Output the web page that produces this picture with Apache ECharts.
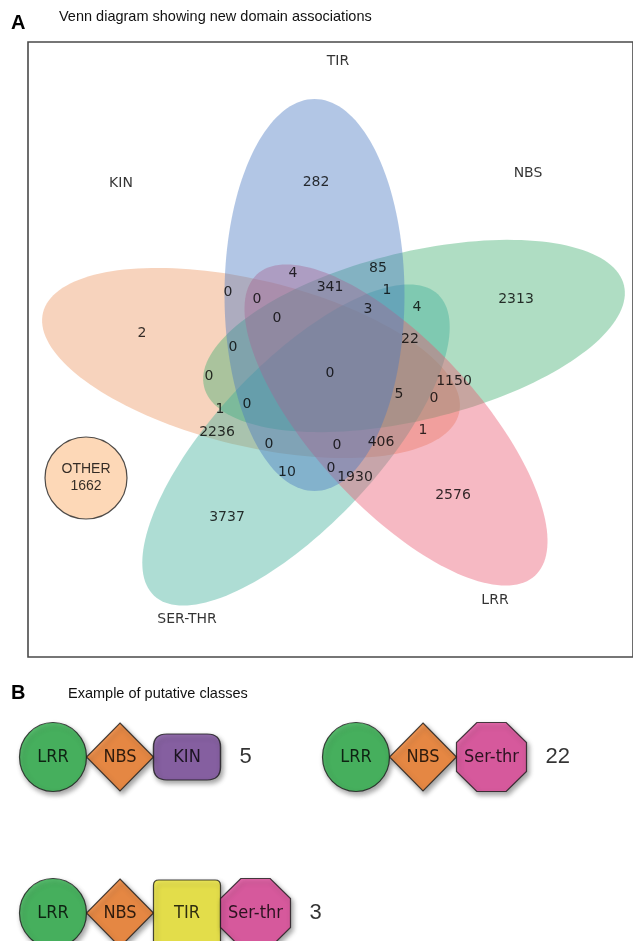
<!DOCTYPE html>
<html>
<head>
<meta charset="utf-8">
<script src="https://cdn.jsdelivr.net/npm/echarts@6/dist/echarts.min.js"></script>
<style>
  html, body { margin: 0; padding: 0; background: #fff; }
  #main { width: 633px; height: 941px; }
</style>
</head>
<body>
<div id="main"></div>
<script>
// ---- data: panel A (Venn of domain sets) ----
var setNames = ['KIN', 'NBS', 'SER-THR', 'LRR', 'TIR'];
var regionCounts = [282, 2313, 2, 2576, 3737, 85, 4, 341, 1, 0, 0, 3, 4, 0, 22, 0,
  0, 0, 1150, 5, 0, 1, 0, 1, 2236, 0, 0, 406, 10, 0, 1930];
var otherLabel = 'OTHER';
var otherCount = 1662;

// ---- data: panel B (putative classes) ----
var classDomains = [
  ['LRR', 'NBS', 'KIN'],
  ['LRR', 'NBS', 'Ser-thr'],
  ['LRR', 'NBS', 'TIR', 'Ser-thr']
];
var classCounts = [5, 22, 3];

// ---- layout (pixel space of the page, y downwards) ----
var setColors = ['rgba(235,150,98,0.42)', 'rgba(65,175,113,0.42)', 'rgba(63,175,153,0.42)',
  'rgba(233,88,113,0.42)', 'rgba(72,120,192,0.42)'];
// cx, cy, semi-major, semi-minor, rotation (deg)
var ellipseShapes = [
  [251, 363, 214, 83, 13.6],
  [414, 336, 216, 84, -13.6],
  [296, 445, 207, 81, -46.7],
  [396, 425, 205, 82, 47.3],
  [314.5, 295, 196, 90, 90]
];
var setLabelPos = [[121, 183], [528, 173], [187, 619], [495, 600], [338, 61]];
var regionPos = [
  [316, 182], [516, 299], [142, 333], [453, 495], [227, 517],
  [378, 268], [293, 273], [330, 287], [387, 290], [228, 292], [257, 299],
  [368, 309], [417, 307], [277, 318], [410, 339], [233, 347], [330, 373],
  [209, 376], [454, 381], [399, 394], [434, 398], [220, 409], [247, 404],
  [423, 430], [217, 432], [269, 444], [337, 445], [381, 442], [287, 472],
  [331, 468], [355, 477]
];
var otherPos = [86, 478];

var octPath = 'path://M29,0 L71,0 L100,29 L100,71 L71,100 L29,100 L0,71 L0,29 Z';
var squarePath = 'path://M8,0 H92 Q100,0 100,8 V92 Q100,100 92,100 H8 Q0,100 0,92 V8 Q0,0 8,0 Z';
var pillPath = 'path://M20,0 H80 Q100,0 100,28 V72 Q100,100 80,100 H20 Q0,100 0,72 V28 Q0,0 20,0 Z';
var domainStyle = {
  'LRR': { symbol: 'circle', size: [67, 69], color: '#2eb14b' },
  'NBS': { symbol: 'diamond', size: [67, 68], color: '#f5802a' },
  'KIN': { symbol: pillPath, size: [67, 46], color: '#7d4e9f' },
  'TIR': { symbol: squarePath, size: [67, 66], color: '#f3eb33' },
  'Ser-thr': { symbol: octPath, size: [70, 69], color: '#e2469a' }
};
var classOrigins = [[53, 757], [356, 757], [53, 913]];

// build panel B marks
var shapeData = [];
var countData = [];
classDomains.forEach(function (doms, ci) {
  var x = classOrigins[ci][0], y = classOrigins[ci][1];
  doms.forEach(function (d, j) {
    var st = domainStyle[d];
    if (j > 0) x += domainStyle[doms[j - 1]].size[0] / 2 + st.size[0] / 2;
    shapeData.push({
      name: d, value: [x, y], symbol: st.symbol, symbolSize: st.size,
      itemStyle: { color: st.color }
    });
  });
  var last = domainStyle[doms[doms.length - 1]];
  countData.push({ name: String(classCounts[ci]), value: [x + last.size[0] / 2 + 19, y] });
});

var vennLabels = regionCounts.map(function (c, i) {
  return { name: String(c), value: regionPos[i] };
});
var setLabels = setNames.map(function (n, i) {
  return { name: n, value: setLabelPos[i] };
});

var chart = echarts.init(document.getElementById('main'), null, { renderer: 'canvas' });

var hiddenX = { type: 'value', min: 0, max: 633, show: false };
var hiddenY = { type: 'value', min: 0, max: 941, inverse: true, show: false };

var option = {
  backgroundColor: '#fff',
  animation: false,
  title: [
    { text: 'A', left: 11, top: 13, padding: 0,
      textStyle: { fontFamily: 'Liberation Sans', fontSize: 20, fontWeight: 'bold', color: '#000' } },
    { text: 'Venn diagram showing new domain associations', left: 59, top: 9, padding: 0,
      textStyle: { fontFamily: 'Liberation Sans', fontSize: 14.5, fontWeight: 'normal', color: '#111' } },
    { text: 'B', left: 11, top: 683, padding: 0,
      textStyle: { fontFamily: 'Liberation Sans', fontSize: 20, fontWeight: 'bold', color: '#000' } },
    { text: 'Example of putative classes', left: 68, top: 686, padding: 0,
      textStyle: { fontFamily: 'Liberation Sans', fontSize: 14.5, fontWeight: 'normal', color: '#111' } }
  ],
  grid: [
    { left: 0, top: 0, width: 633, height: 941 },
    { left: 28, top: 42, width: 640, height: 615, show: true,
      borderColor: '#4a4a4a', borderWidth: 1.6, backgroundColor: 'transparent' }
  ],
  xAxis: [hiddenX, Object.assign({ gridIndex: 1 }, hiddenX)],
  yAxis: [hiddenY, Object.assign({ gridIndex: 1 }, hiddenY)],
  series: [
    {
      type: 'custom',
      silent: true,
      data: ellipseShapes,
      renderItem: function (params, api) {
        var cx = api.value(0), cy = api.value(1), a = api.value(2), b = api.value(3);
        var th = api.value(4) * Math.PI / 180;
        var pts = [];
        for (var i = 0; i < 160; i++) {
          var t = i / 160 * 2 * Math.PI;
          pts.push(api.coord([
            cx + a * Math.cos(t) * Math.cos(th) - b * Math.sin(t) * Math.sin(th),
            cy + a * Math.cos(t) * Math.sin(th) + b * Math.sin(t) * Math.cos(th)
          ]));
        }
        return { type: 'polygon', shape: { points: pts }, style: { fill: setColors[params.dataIndex] } };
      }
    },
    {
      type: 'scatter', silent: true, symbolSize: 0, data: vennLabels,
      label: { show: true, position: 'inside', formatter: '{b}',
        fontFamily: 'DejaVu Sans', fontSize: 14, color: '#000' }
    },
    {
      type: 'scatter', silent: true, symbolSize: 0, data: setLabels,
      label: { show: true, position: 'inside', formatter: '{b}',
        fontFamily: 'DejaVu Sans', fontSize: 14, color: '#000' }
    },
    {
      type: 'scatter', silent: true, symbolSize: 82,
      data: [{ name: otherLabel + '\n' + otherCount, value: otherPos }],
      itemStyle: { color: '#fccea5', borderColor: '#222', borderWidth: 1.2 },
      label: { show: true, position: 'inside', formatter: '{b}', lineHeight: 17,
        fontFamily: 'Liberation Sans', fontSize: 14, color: '#000' }
    },
    {
      type: 'scatter', silent: true, data: shapeData,
      itemStyle: { borderColor: '#1a1a1a', borderWidth: 1.2,
        shadowBlur: 5, shadowColor: 'rgba(0,0,0,0.45)', shadowOffsetX: 2, shadowOffsetY: 3 },
      label: { show: true, position: 'inside', formatter: '{b}',
        fontFamily: "'Liberation Sans Narrow', 'DejaVu Sans Condensed', 'Liberation Sans'",
        fontSize: 18, color: '#000' }
    },
    {
      type: 'scatter', silent: true, symbolSize: 0, data: countData,
      label: { show: true, position: 'inside', align: 'left', formatter: '{b}',
        fontFamily: 'Liberation Sans', fontSize: 22, color: '#000' }
    }
  ]
};
option && chart.setOption(option);
</script>
</body>
</html>
